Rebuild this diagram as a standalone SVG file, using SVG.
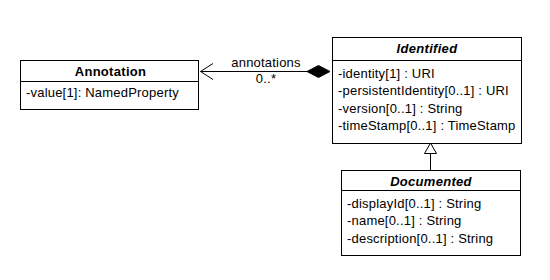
<svg xmlns="http://www.w3.org/2000/svg" width="550" height="280" viewBox="0 0 550 280">
  <style>
    .box { fill: #ffffff; stroke: #000000; stroke-width: 1; }
    .line { stroke: #000000; stroke-width: 1; fill: none; }
    text { font-family: "Liberation Sans", Arial, sans-serif; font-size: 13px; letter-spacing: 0.2px; fill: #000000; }
    .title { font-weight: bold; text-anchor: middle; letter-spacing: 0.3px; }
    .abstract { font-style: italic; }
  </style>
  <rect width="550" height="280" fill="#ffffff"/>

  <g id="connectors">
    <!-- composition: Identified owns Annotation -->
    <line class="line" x1="200.5" y1="71.5" x2="307" y2="71.5"/>
    <polyline class="line" points="213,63.5 200.5,71.5 213,79.5"/>
    <polygon points="307,71.5 318.5,65.5 330,71.5 318.5,77.5" fill="#000000" stroke="#000000"/>
    <text x="266" y="67" text-anchor="middle">annotations</text>
    <text x="266" y="83" text-anchor="middle">0..*</text>
    <!-- generalization: Documented extends Identified -->
    <line class="line" x1="430.5" y1="153" x2="430.5" y2="170"/>
    <polygon points="430.5,143 424.5,153.5 436.5,153.5" fill="#ffffff" stroke="#000000"/>
  </g>

  <g id="Annotation">
    <rect class="box" x="20.5" y="60.5" width="178" height="49"/>
    <line class="line" x1="20.5" y1="81.5" x2="198.5" y2="81.5"/>
    <text class="title" x="110.5" y="76">Annotation</text>
    <text x="26" y="97">-value[1]: NamedProperty</text>
  </g>

  <g id="Identified">
    <rect class="box" x="332.5" y="37.5" width="189" height="106"/>
    <line class="line" x1="332.5" y1="60.5" x2="521.5" y2="60.5"/>
    <text class="title abstract" x="427" y="53">Identified</text>
    <text x="338" y="78">-identity[1] : URI</text>
    <text x="338" y="95">-persistentIdentity[0..1] : URI</text>
    <text x="338" y="113">-version[0..1] : String</text>
    <text x="338" y="130">-timeStamp[0..1] : TimeStamp</text>
  </g>

  <g id="Documented">
    <rect class="box" x="341.5" y="170.5" width="179" height="85"/>
    <line class="line" x1="341.5" y1="190.5" x2="520.5" y2="190.5"/>
    <text class="title abstract" x="431" y="186">Documented</text>
    <text x="347" y="208">-displayId[0..1] : String</text>
    <text x="347" y="225">-name[0..1] : String</text>
    <text x="347" y="243">-description[0..1] : String</text>
  </g>
</svg>
